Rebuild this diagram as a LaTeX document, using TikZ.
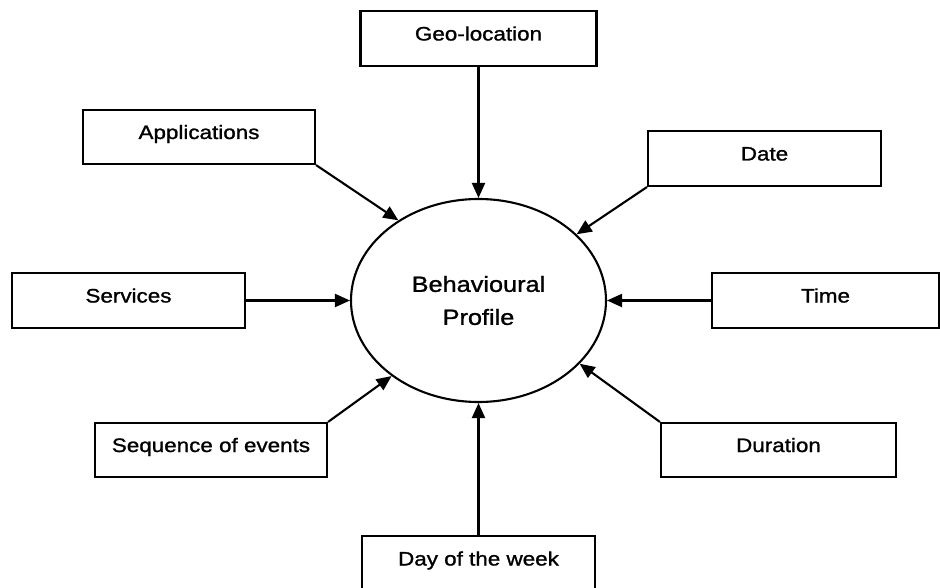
\documentclass[tikz,border=0pt]{standalone}
\usepackage{fontspec}
\setmainfont{Liberation Sans}[FakeStretch=1.15,FakeBold=1.2]
\usetikzlibrary{arrows.meta,shapes.geometric}
\begin{document}
\begin{tikzpicture}[x=1pt,y=-1pt,
  box/.style={draw,line width=2.1pt,rectangle,minimum height=55pt,text height=14pt,text depth=10pt,inner sep=0pt,font=\fontsize{19.5}{23}\selectfont},
  arr/.style={line width=2.1pt,-{Triangle[length=15pt,width=13pt]}}]
\useasboundingbox (0,0) rectangle (940,588);
\clip (0,0) rectangle (940,588);
\node[ellipse,draw,line width=2.1pt,minimum width=255pt,minimum height=203pt,inner sep=0pt,align=center,font=\fontsize{22}{33}\selectfont] (bp) at (478.5,300.5) {Behavioural\\Profile};
\node[box,minimum width=236pt] (geo) at (478.5,38.5) {Geo-location};
\node[box,minimum width=232pt,minimum height=54pt] (app) at (199,137) {Applications};
\node[box,minimum width=233pt] (date) at (764.5,158.5) {Date};
\node[box,minimum width=233pt] (serv) at (128.5,300.5) {Services};
\node[box,minimum width=227pt] (time) at (825.5,300.5) {Time};
\node[box,minimum width=232pt,minimum height=54pt] (seq) at (211,450) {Sequence of events};
\node[box,minimum width=235pt,minimum height=54pt] (dur) at (778.5,450) {Duration};
\node[box,minimum width=233pt] (day) at (478.5,563.5) {Day of the week};
\draw[arr] (geo.south) -- (bp.north);
\draw[arr] (app.south east) -- (bp.135.7);
\draw[arr] (date.south west) -- (bp.34.5);
\draw[arr] (serv.east) -- (bp.west);
\draw[arr] (time.west) -- (bp.east);
\draw[arr] (seq.north east) -- (bp.221);
\draw[arr] (dur.north west) -- (bp.328);
\draw[arr] (day.north) -- (bp.south);
\end{tikzpicture}
\end{document}
